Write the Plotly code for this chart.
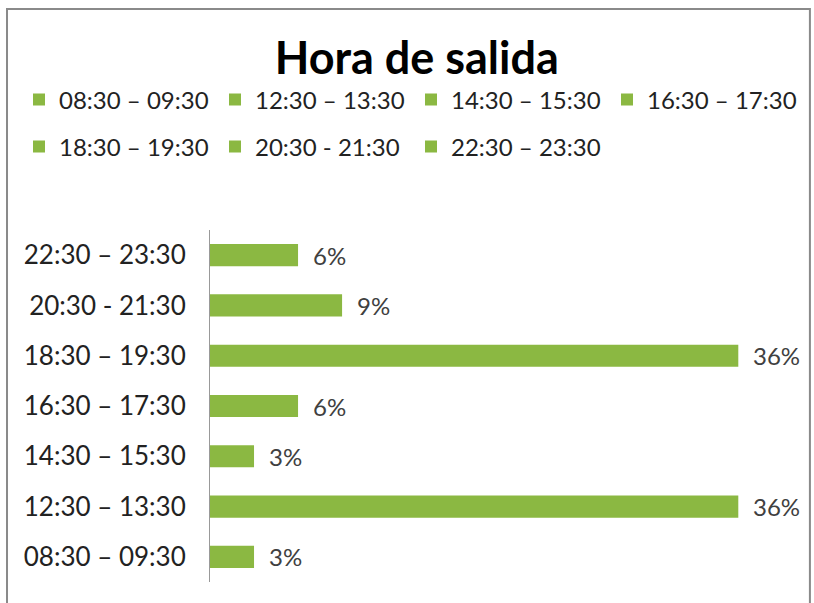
import plotly.graph_objects as go

categories = ["08:30 – 09:30", "12:30 – 13:30", "14:30 – 15:30", "16:30 – 17:30",
              "18:30 – 19:30", "20:30 - 21:30", "22:30 – 23:30"]
values = [3, 36, 3, 6, 36, 9, 6]
legend_groups = ["legend", "legend", "legend", "legend3", "legend2", "legend2", "legend2"]
bar_color = "#8BB842"
font_family = "Lato, 'Open Sans', sans-serif"

fig = go.Figure()
for cat, val, lg in zip(categories, values, legend_groups):
    fig.add_trace(go.Bar(
        y=[cat], x=[val], orientation="h", name=cat,
        marker=dict(color=bar_color, line=dict(width=0)),
        width=0.44, hoverinfo="skip", legend=lg,
    ))

annotations = [
    dict(x=v, y=c, xref="x", yref="y", text=f"{v}%", showarrow=False,
         xanchor="left", xshift=13, font=dict(size=24, color="#404040", family=font_family))
    for c, v in zip(categories, values)
]

legend_common = dict(orientation="h", xanchor="left", yanchor="middle",
                     xref="container", yref="container", traceorder="normal",
                     entrywidth=151, itemwidth=30, bgcolor="rgba(0,0,0,0)",
                     font=dict(size=24, color="#222", family=font_family))

fig.update_layout(
    width=814, height=603,
    paper_bgcolor="white", plot_bgcolor="white",
    margin=dict(l=210, r=17, t=230, b=21, autoexpand=False),
    barmode="overlay",
    showlegend=True,
    title=dict(text="<b>Hora de salida</b>", x=0.512, xref="container", xanchor="center",
               y=0.904, yref="container", yanchor="middle",
               font=dict(size=45, color="black", family=font_family)),
    legend=dict(x=19 / 814, y=1 - 100 / 603, **legend_common),
    legend3=dict(x=(19 + 588) / 814, y=1 - 100 / 603, **legend_common),
    legend2=dict(x=19 / 814, y=1 - 147 / 603, **legend_common),
    xaxis=dict(range=[0, 40], visible=False, showgrid=False, zeroline=False),
    yaxis=dict(categoryorder="array", categoryarray=categories,
               showline=True, linecolor="#999", linewidth=1, automargin=False,
               ticks="", showgrid=False, ticklabelstandoff=18,
               tickfont=dict(size=26, color="#222", family=font_family)),
    annotations=annotations,
    shapes=[dict(type="rect", xref="paper", yref="paper",
                 x0=-0.3458, x1=1.022, y0=-0.3, y1=1.628,
                 line=dict(color="#8a8a8a", width=2), layer="below")],
)

fig.write_html("out.html", config={"displayModeBar": False},
               post_script="document.body.style.margin='0';")
